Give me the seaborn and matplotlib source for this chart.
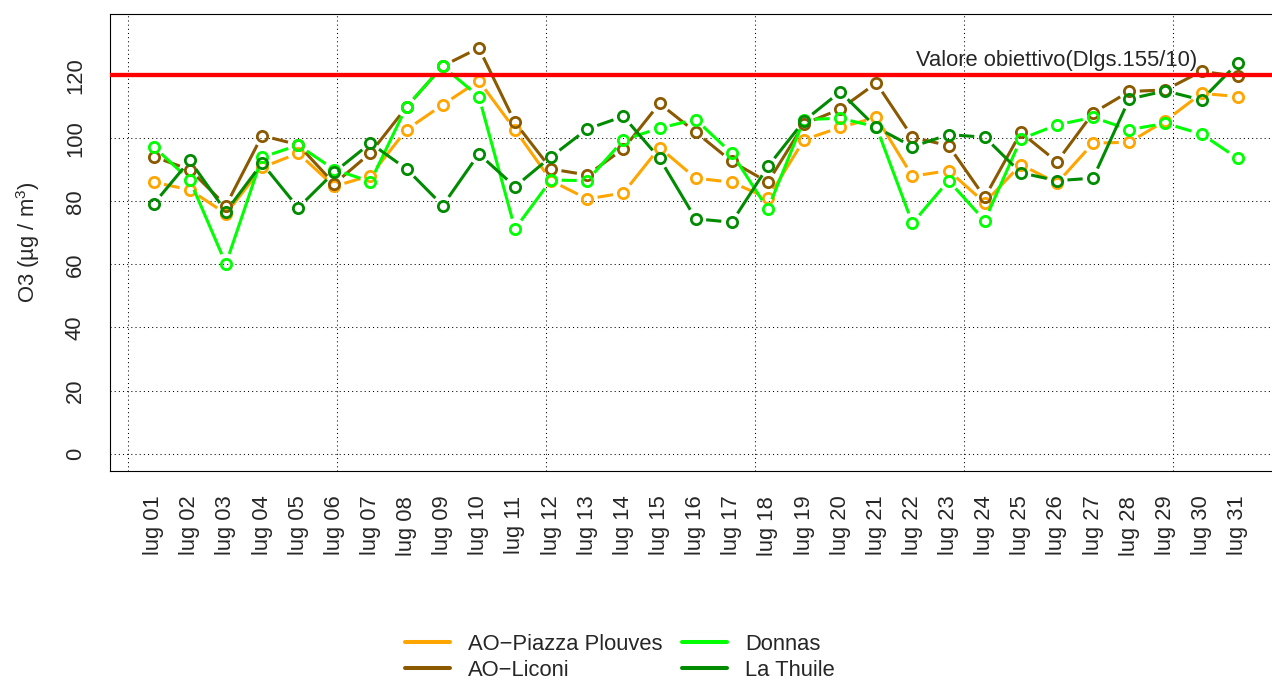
import matplotlib
matplotlib.use("Agg")
import matplotlib.pyplot as plt
from matplotlib.lines import Line2D
import numpy as np
import pandas as pd
import seaborn as sns

# daily O3 values, July
days = list(range(1, 32))
day_labels = [f"lug {d:02d}" for d in days]

piazza_plouves = [86.1, 83.7, 76.1, 90.8, 95.3, 84.8, 88.2, 102.8, 110.7, 118.3,
                  102.8, 86.6, 80.8, 82.7, 97.1, 87.4, 86.1, 81.0, 99.6, 103.5,
                  106.7, 88.0, 89.8, 79.6, 91.7, 85.8, 98.5, 98.8, 105.6, 114.3, 113.3]
liconi = [94.2, 90.1, 78.7, 100.9, 98.0, 85.6, 95.4, 110.0, 123.0, 128.7,
          105.1, 90.3, 88.4, 96.7, 111.1, 102.0, 92.7, 86.1, 104.6, 109.3,
          117.6, 100.4, 97.7, 81.3, 101.9, 92.6, 108.1, 114.9, 115.4, 121.3, 119.7]
donnas = [97.4, 86.8, 60.2, 94.0, 97.9, 90.1, 86.3, 110.1, 122.9, 113.3,
          71.3, 86.8, 86.6, 99.5, 103.3, 106.0, 95.3, 77.6, 106.0, 106.4,
          103.7, 73.1, 86.6, 73.9, 99.8, 104.3, 106.7, 102.8, 104.8, 101.4, 93.7]
la_thuile = [79.2, 93.0, 76.8, 92.1, 78.0, 89.3, 98.5, 90.3, 78.7, 95.1,
             84.7, 94.2, 103.0, 107.0, 93.7, 74.5, 73.4, 91.1, 105.6, 114.8,
             103.5, 97.4, 101.2, 100.4, 89.1, 86.6, 87.4, 112.5, 115.1, 112.2, 123.9]

stations = ["AO\u2212Piazza Plouves", "AO\u2212Liconi", "Donnas", "La Thuile"]
series = [piazza_plouves, liconi, donnas, la_thuile]
colors = ["#FFA500", "#8B5A00", "#00FF00", "#008B00"]

THRESHOLD = 120
THRESHOLD_LABEL = "Valore obiettivo(Dlgs.155/10)"
FS = 15.8


def gapped(ax, x, y, gap_px):
    # R type="b": segments stop short of each point
    tr = ax.transData
    pts = tr.transform(np.column_stack([x, y]))
    back = tr.inverted()
    rows = []
    for i in range(len(pts) - 1):
        p0, p1 = pts[i], pts[i + 1]
        d = p1 - p0
        f = gap_px / np.hypot(*d)
        if f < 0.5:
            a, b = back.transform([p0 + f * d, p1 - f * d])
            rows += [(i, a[0], a[1]), (i, b[0], b[1])]
    return pd.DataFrame(rows, columns=["seg", "x", "y"])


sns.set_style("white")
plt.rcParams["font.family"] = ["Liberation Sans", "DejaVu Sans"]
plt.rcParams["mathtext.default"] = "regular"

fig = plt.figure(figsize=(12.72, 6.82), dpi=100)
W, H = 1272, 682
ax = fig.add_axes([110.3 / W, 1 - 470.7 / H, (1281 - 110.3) / W, (470.7 - 14.3) / H])
xlim, ylim = (-0.2, 32.2), (-5.45, 139.4)
ax.set_xlim(*xlim)
ax.set_ylim(*ylim)

# dotted grid: x grid from R's pretty() on seconds (500000 s steps)
step = 500000 / 86400
for gx in 0.280 + step * np.arange(6):
    ax.axvline(gx, color="black", lw=0.75, ls=(0, (1, 3)), zorder=1)
for gy in range(0, 121, 20):
    ax.axhline(gy, color="black", lw=0.75, ls=(0, (1, 3)), zorder=1)

for vals, c in zip(series, colors):
    seg = gapped(ax, days, vals, 10.5)
    sns.lineplot(data=seg, x="x", y="y", units="seg", estimator=None, sort=False,
                 color=c, lw=2.2, solid_capstyle="butt", legend=False, ax=ax, zorder=3)
    sns.lineplot(x=days, y=vals, color=c, marker="o", linestyle="none",
                 markersize=7.4, markerfacecolor="none", markeredgecolor=c,
                 markeredgewidth=2.0, legend=False, ax=ax, zorder=3)

ax.axhline(THRESHOLD, color="red", lw=3.1, zorder=4)
ax.text(26, 123.1, THRESHOLD_LABEL, ha="center", va="baseline", fontsize=FS, zorder=5)

ax.set_xlim(*xlim)
ax.set_ylim(*ylim)
ax.set_xticks(days)
ax.set_xticklabels(day_labels, rotation=90, fontsize=FS)
ax.set_yticks(range(0, 121, 20))
ax.set_yticklabels([str(v) for v in range(0, 121, 20)], rotation=90, va="center", fontsize=FS)
ax.tick_params(axis="both", direction="out", length=9, width=0.75, color="black")
ax.tick_params(axis="x", pad=9)
ax.tick_params(axis="y", pad=8.5)
ax.set_xlabel("")
ax.set_ylabel("")
for s in ax.spines.values():
    s.set_visible(True)
    s.set_color("black")
    s.set_linewidth(0.8)

fig.text(28 / W, 1 - 242.5 / H, "O3 (µg / m$^{3}$)", rotation=90, ha="center", va="center", fontsize=FS)

handles = [Line2D([], [], color=c, lw=2.9) for c in colors]
fig.legend(handles, stations, ncol=2, loc="upper left",
           bbox_to_anchor=(405 / W, 1 - 634 / H), frameon=False, fontsize=FS,
           handlelength=2.05, handletextpad=0.82, columnspacing=0.9,
           labelspacing=0.22, borderpad=0, borderaxespad=0)

fig.savefig("out.png", dpi=100)
